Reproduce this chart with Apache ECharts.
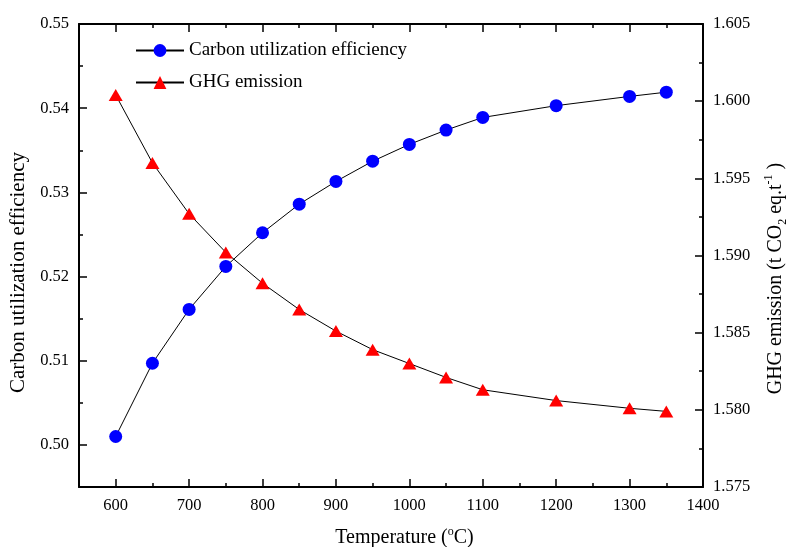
<!DOCTYPE html>
<html><head><meta charset="utf-8">
<script src="https://cdn.jsdelivr.net/npm/echarts@6/dist/echarts.min.js"></script>
<style>html,body{margin:0;padding:0;background:#fff}#c{width:791px;height:547px}</style>
</head><body><div id="c"></div>
<script>
var temperatures = [600, 650, 700, 750, 800, 850, 900, 950, 1000, 1050, 1100, 1200, 1300, 1350];
var carbonEfficiency = [0.5010, 0.5097, 0.5161, 0.5212, 0.5252, 0.5286, 0.5313, 0.5337, 0.5357, 0.5374, 0.5389, 0.5403, 0.5414, 0.5419];
var ghgEmission = [1.6004, 1.5960, 1.5927, 1.5902, 1.5882, 1.5865, 1.5851, 1.5839, 1.5830, 1.5821, 1.5813, 1.5806, 1.5801, 1.5799];
var seriesNames = ['Carbon utilization efficiency', 'GHG emission'];

var FONT = '"Liberation Serif", "Times New Roman", serif';
var chart = echarts.init(document.getElementById('c'));
function pairs(xs, ys){ return xs.map(function(x,i){ return [x, ys[i]]; }); }
var tickInside = {show:true, inside:true, length:8, lineStyle:{color:'#000', width:1.5}};
var minorInside = {show:true, splitNumber:2, length:4, lineStyle:{color:'#000', width:1.5}};
var lineStyleAxis = {show:true, lineStyle:{color:'#000', width:2}};
chart.setOption({
  animation:false,
  backgroundColor:'#fff',
  grid:{left:79, right:88, top:24, bottom:60, containLabel:false, outerBoundsMode:'none'},
  legend:{
    orient:'vertical', left:130, top:36, itemGap:13, itemWidth:48, itemHeight:16,
    textStyle:{fontFamily:FONT, fontSize:19, color:'#000'},
    data:seriesNames
  },
  xAxis:[{
    type:'value', min:550, max:1400, splitNumber:8, position:'bottom',
    axisLine:lineStyleAxis, axisTick:tickInside, minorTick:minorInside, splitLine:{show:false},
    axisLabel:{margin:10, fontFamily:FONT, fontSize:16.5, color:'#000',
      formatter:function(v){ return (v % 100 === 0) ? String(v) : ''; }},
    name:'{a|Temperature (}{p|o}{a|C)}', nameLocation:'middle', nameGap:39,
    nameTextStyle:{padding:[0,0,0,27], rich:{
      a:{fontFamily:FONT, fontSize:20, color:'#000', lineHeight:24},
      p:{fontFamily:FONT, fontSize:12, color:'#000', verticalAlign:'top', lineHeight:24}
    }}
  },{
    type:'value', min:550, max:1400, splitNumber:8, position:'top',
    axisLine:lineStyleAxis, axisTick:tickInside, minorTick:minorInside, splitLine:{show:false},
    axisLabel:{show:false}
  }],
  yAxis:[{
    type:'value', min:0.495, max:0.55, splitNumber:5, position:'left',
    axisLine:lineStyleAxis, axisTick:tickInside, minorTick:minorInside, splitLine:{show:false},
    axisLabel:{margin:10, fontFamily:FONT, fontSize:16.5, color:'#000',
      formatter:function(v){ return v < 0.4999 ? '' : v.toFixed(2); }},
    name:'Carbon utilization efficiency', nameLocation:'middle', nameGap:39, nameRotate:90,
    nameTextStyle:{fontFamily:FONT, fontSize:21, color:'#000', padding:[0,34,0,0]}
  },{
    type:'value', min:1.575, max:1.605, interval:0.005, position:'right',
    axisLine:lineStyleAxis, axisTick:tickInside, minorTick:minorInside, splitLine:{show:false},
    axisLabel:{margin:10, fontFamily:FONT, fontSize:16.5, color:'#000',
      formatter:function(v){ return v.toFixed(3); }},
    name:'{a|GHG emission (t CO}{s|2}{a| eq.t}{p|-1}{a| )}', nameLocation:'middle', nameGap:60, nameRotate:90,
    nameTextStyle:{padding:[0,46,0,0], rich:{
      a:{fontFamily:FONT, fontSize:20, color:'#000', lineHeight:26},
      s:{fontFamily:FONT, fontSize:12, color:'#000', verticalAlign:'bottom', lineHeight:26},
      p:{fontFamily:FONT, fontSize:12, color:'#000', verticalAlign:'top', lineHeight:26}
    }}
  }],
  series:[{
    name:seriesNames[0], type:'line', xAxisIndex:0, yAxisIndex:0,
    data:pairs(temperatures, carbonEfficiency),
    symbol:'circle', symbolSize:13,
    lineStyle:{color:'#000', width:1},
    itemStyle:{color:'#0000ff', borderWidth:0}
  },{
    name:seriesNames[1], type:'line', xAxisIndex:0, yAxisIndex:1,
    data:pairs(temperatures, ghgEmission),
    symbol:'triangle', symbolSize:[14,12],
    lineStyle:{color:'#000', width:1},
    itemStyle:{color:'#ff0000', borderWidth:0}
  }]
});
</script></body></html>
